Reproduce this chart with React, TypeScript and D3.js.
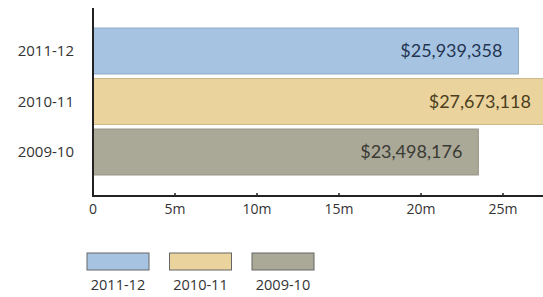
import React from 'react';
import * as d3 from 'd3';

const seasons = ['2011-12', '2010-11', '2009-10'];
const amounts = [25939358, 27673118, 23498176];
const colors = ['#a6c4e2', '#ead39c', '#aaa897'];
const edgeColors = ['#8fa9c4', '#cdb888', '#959383'];
const labelColors = ['#243552', '#4a3e1c', '#3a3a34'];
const tickValues = [0, 5e6, 10e6, 15e6, 20e6, 25e6];

const W = 543;
const H = 297;

export default function App() {
  const x = d3.scaleLinear().domain([0, 25e6]).range([93, 503]);
  const y = d3.scaleBand<string>()
    .domain(seasons)
    .range([25.75, 177.25])
    .paddingInner(0.09)
    .paddingOuter(0.045);
  const axisY = 196;
  const fmt = d3.format(',');
  const tickFmt = (v: number) => (v === 0 ? '0' : `${v / 1e6}m`);

  // legend swatches
  const legend = d3.scalePoint<string>().domain(seasons).range([118, 283]);

  return (
    <svg width={W} height={H} style={{ position: 'absolute', left: 0, top: 0, background: '#fff' }}
      fontFamily="Lato, 'Open Sans', sans-serif">
      {seasons.map((s, i) => (
        <g key={s}>
          <rect x={x(0)} y={y(s)} width={x(amounts[i]) - x(0)} height={y.bandwidth()}
            fill={colors[i]} stroke={edgeColors[i]} strokeWidth={1} />
          <text x={x(amounts[i]) - 16} y={(y(s) as number) + y.bandwidth() / 2} dy="0.35em"
            textAnchor="end" fontSize={18} fill={labelColors[i]}>
            ${fmt(amounts[i])}
          </text>
          <text x={74} y={(y(s) as number) + y.bandwidth() / 2} dy="0.35em"
            textAnchor="end" fontSize={15} fill="#333" fontFamily="'Open Sans', sans-serif">
            {s}
          </text>
        </g>
      ))}
      {/* y axis */}
      <line x1={x(0)} x2={x(0)} y1={8} y2={axisY + 1} stroke="#222" strokeWidth={2} />
      {/* x axis */}
      <line x1={x(0) - 1} x2={W} y1={axisY} y2={axisY} stroke="#222" strokeWidth={2} />
      {tickValues.map((t) => (
        <g key={t}>
          <line x1={x(t)} x2={x(t)} y1={axisY - 3} y2={axisY} stroke="#222" strokeWidth={1.5} />
          <text x={x(t)} y={axisY + 18} textAnchor="middle" fontSize={14} fill="#333"
            fontFamily="'Open Sans', sans-serif">
            {tickFmt(t)}
          </text>
        </g>
      ))}
      {/* legend */}
      {seasons.map((s, i) => (
        <g key={'lg' + s}>
          <rect x={(legend(s) as number) - 31} y={253} width={62} height={17}
            fill={colors[i]} stroke="#666" strokeWidth={1} />
          <text x={legend(s) as number} y={290} textAnchor="middle" fontSize={14.5} fill="#333"
            fontFamily="'Open Sans', sans-serif">
            {s}
          </text>
        </g>
      ))}
    </svg>
  );
}
